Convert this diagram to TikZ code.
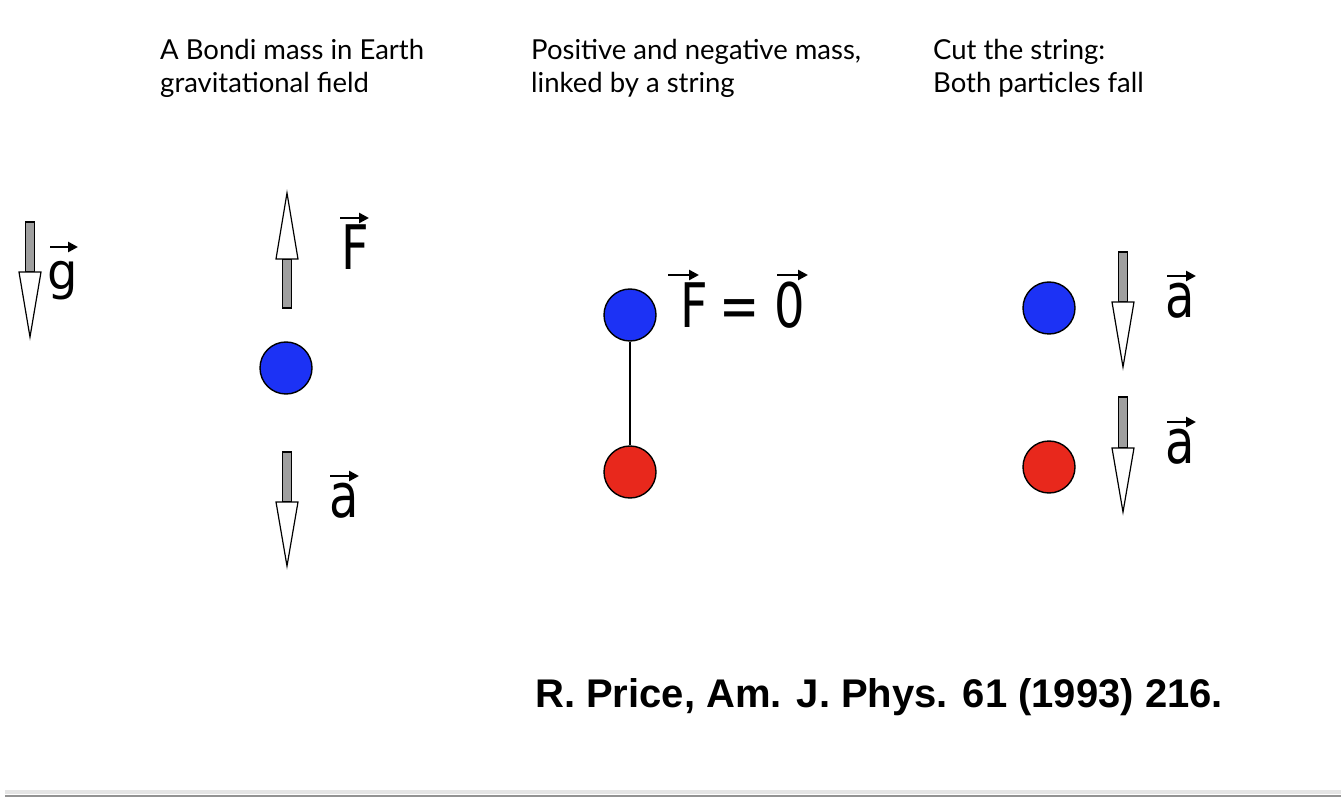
\documentclass[tikz,border=0pt]{standalone}
\usepackage{fontspec}
\usetikzlibrary{arrows.meta}
\setmainfont{Lato}
\newfontfamily\labfont{DejaVu Sans}
\newfontfamily\citefont{Liberation Sans}
\newcommand{\tall}[1]{\scalebox{1}[1.28]{#1}}
\newcommand{\blockarr}[4]{% x, shaft end, head base, tip
  \filldraw[draw=black,fill=gray!75,line width=1.2pt] (#1-4.5,#2) rectangle (#1+4.5,#3);
  \filldraw[draw=black,fill=white,line width=1.2pt,line join=miter] (#1-11,#3) -- (#1+11,#3) -- (#1,#4) -- cycle;}
\definecolor{massblue}{RGB}{28,50,245}
\definecolor{massred}{RGB}{232,40,28}
\tikzset{
  mass/.style={circle,draw=black,line width=1.4pt,minimum size=52pt,inner sep=0pt},
  posmass/.style={mass,fill=massblue},
  negmass/.style={mass,fill=massred},
  title/.style={font=\fontsize{27.5}{33}\selectfont,align=left,anchor=base west,inner sep=0pt},
  vecl/.style={font=\labfont\fontsize{48}{48}\selectfont,inner sep=0pt,anchor=base},
  vecarr/.style={line width=2.6pt,-{Triangle[length=10pt,width=10pt]}},
}
\begin{document}
\begin{tikzpicture}[x=1pt,y=-1pt]
\useasboundingbox[fill=white] (0,0) rectangle (1341,799);
% titles
\node[title] (t1) at (160,93) {A Bondi mass in Earth\\gravitational field};
\node[title] (t2) at (531,93) {Positive and negative mass,\\linked by a string};
\node[title] (t3) at (933,93) {Cut the string:\\Both particles fall};
% panel 0: g
\blockarr{30}{222}{272}{337}
\node[vecl] (g) at (63,290) {\scalebox{1}[1.05]{g}};
\draw[vecarr] ([shift={(-13,-43)}]g.base) -- ([shift={(15,-43)}]g.base);
% panel 1
\blockarr{287}{308}{259}{193}
\node[vecl] (F1) at (355,270) {\tall{F}};
\draw[vecarr] ([shift={(-15,-52)}]F1.base) -- ([shift={(14,-52)}]F1.base);
\node[posmass] (m1) at (286,368) {};
\blockarr{287}{452}{502}{566}
\node[vecl] (a1) at (344,517) {\tall{a}};
\draw[vecarr] ([shift={(-14,-41)}]a1.base) -- ([shift={(15,-41)}]a1.base);
% panel 2
\node[posmass] (p2) at (630,315) {};
\node[negmass] (n2) at (630,472) {};
\draw[line width=2.8pt] (p2) -- (n2);
\node[vecl] (F0) at (694,328) {\tall{F}};
\node[vecl] (eq) at (740,328) {\tall{=}};
\node[vecl] (zero) at (790,328) {\tall{0}};
\draw[vecarr] ([shift={(-26,-53)}]F0.base) -- ([shift={(5,-53)}]F0.base);
\draw[vecarr] ([shift={(-13,-53)}]zero.base) -- ([shift={(18,-53)}]zero.base);
% panel 3
\node[posmass] (p3) at (1049,308) {};
\node[negmass] (n3) at (1049,467) {};
\blockarr{1123}{252}{302}{367}
\blockarr{1123}{397}{448}{512}
\node[vecl] (a3) at (1180,318) {\tall{a}};
\draw[vecarr] ([shift={(-13,-42)}]a3.base) -- ([shift={(16,-42)}]a3.base);
\node[vecl] (a4) at (1180,463) {\tall{a}};
\draw[vecarr] ([shift={(-13,-41)}]a4.base) -- ([shift={(16,-41)}]a4.base);
% citation
\node[font=\citefont\bfseries\fontsize{40}{40}\selectfont,anchor=base west,inner sep=0pt] (cite) at (535,707) {R. Price, Am. J. Phys. 61 (1993) 216.};
% bottom rule
\draw[line width=4pt,gray!20] (5,792) -- (1341,792);
\draw[line width=2.8pt,gray!85] (5,796) -- (1341,796);
\end{tikzpicture}
\end{document}
